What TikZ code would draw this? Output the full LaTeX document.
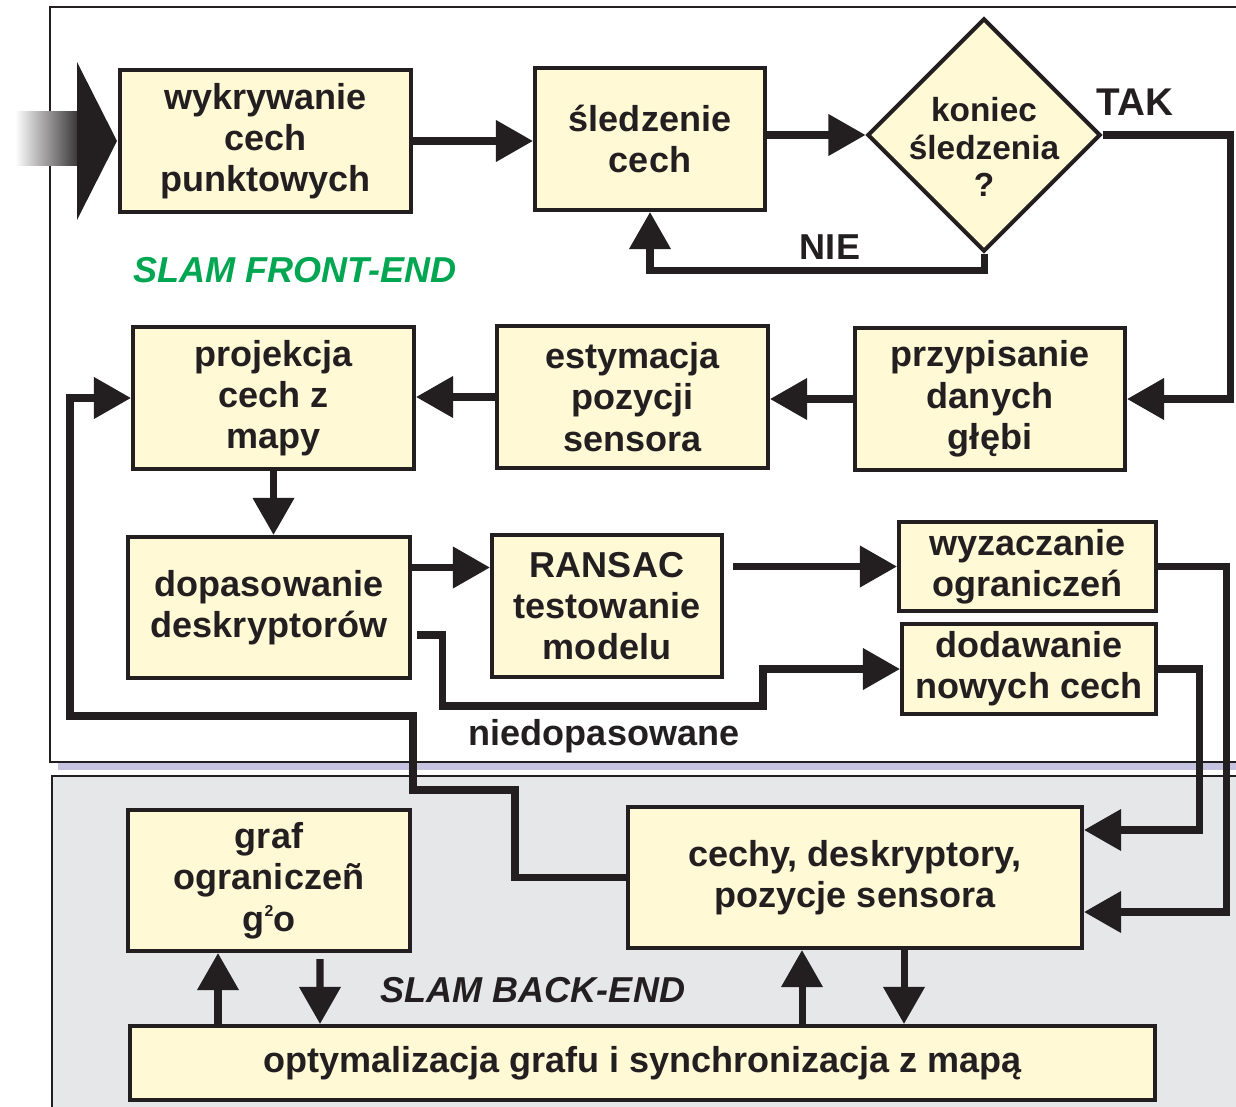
\documentclass[tikz,border=0pt]{standalone}
\usepackage{fontspec}
\setmainfont{Liberation Sans}
\usetikzlibrary{arrows.meta,shapes.geometric,calc}

\definecolor{boxfill}{RGB}{255,249,214}
\definecolor{ink}{RGB}{35,31,32}
\definecolor{backfill}{RGB}{230,231,233}
\definecolor{frontgreen}{RGB}{0,166,81}
\definecolor{shadowlav}{RGB}{197,195,224}

\tikzset{
  blok/.style={draw=ink, line width=2.3pt, fill=boxfill, text=ink, align=center,
    inner sep=0pt, font=\bfseries\fontsize{20.5}{23.5}\selectfont},
  decyzja/.style={blok, shape=diamond, aspect=1},
  conn/.style={draw=ink, line width=4pt, -{Triangle[length=0.74cm,width=0.8cm]}},
  lab/.style={text=ink, font=\bfseries\fontsize{20.5}{23.5}\selectfont},
}

\begin{document}
\begin{tikzpicture}[scale=1.0]
  \useasboundingbox (0,0) rectangle (24.72,-22.12);
  \clip (0,0) rectangle (24.72,-22.12);

  % Back-end and front-end frames
  \filldraw[fill=backfill, draw=ink, line width=1pt] (1.04,-15.52) rectangle (25.5,-23);
  \fill[shadowlav] (1.16,-0.3) rectangle (25.5,-15.4);
  \filldraw[fill=white, draw=ink, line width=1pt] (1.0,-0.14) rectangle (25.5,-15.24);

  % Input arrow
  \shade[left color=white, right color=ink] (0.3,-2.24) rectangle (1.7,-3.32);
  \fill[ink] (1.54,-1.24) -- (2.34,-2.82) -- (1.54,-4.4) -- cycle;

  % Front-end blocks
  \node[blok, minimum width=5.82cm, minimum height=2.84cm] (wyk) at (5.31,-2.82) {wykrywanie\\cech\\punktowych};
  \node[blok, minimum width=4.6cm, minimum height=2.84cm] (sled) at (13.0,-2.78) {śledzenie\\cech};
  \node[decyzja, minimum width=4.66cm, minimum height=4.66cm,
    label={[lab, align=center, yshift=-0.24cm, font=\bfseries\fontsize{19}{21.5}\selectfont]center:koniec\\śledzenia\\?}] (dec) at (19.68,-2.70) {};
  \node[blok, minimum width=5.62cm, minimum height=2.84cm] (proj) at (5.47,-7.96) {projekcja\\cech z\\mapy};
  \node[blok, minimum width=5.42cm, minimum height=2.84cm] (est) at (12.65,-7.94) {estymacja\\pozycji\\sensora};
  \node[blok, minimum width=5.4cm, minimum height=2.84cm] (przyp) at (19.8,-7.98) {przypisanie\\danych\\głębi};
  \node[blok, minimum width=5.64cm, minimum height=2.82cm] (dopas) at (5.38,-12.15) {dopasowanie\\deskryptorów};
  \node[blok, minimum width=4.6cm, minimum height=2.84cm] (ransac) at (12.14,-12.12) {RANSAC\\testowanie\\modelu};
  \node[blok, minimum width=5.14cm, minimum height=1.78cm] (wyz) at (20.55,-11.33) {wyzaczanie\\ograniczeń};
  \node[blok, minimum width=5.08cm, minimum height=1.8cm] (dod) at (20.58,-13.38) {dodawanie\\nowych cech};

  % Back-end blocks
  \node[blok, minimum width=5.64cm, minimum height=2.82cm] (graf) at (5.38,-17.61)
    {graf\\ograniczeñ\\g\raisebox{0.75ex}{\fontsize{9}{9}\selectfont 2}o};
  \node[blok, minimum width=9.08cm, minimum height=2.82cm] (cechy) at (17.1,-17.55) {cechy, deskryptory,\\pozycje sensora};
  \node[blok, minimum width=20.5cm, minimum height=1.48cm] (opt) at (12.85,-21.26) {optymalizacja grafu i synchronizacja z mapą};

  % Labels
  \node[font=\bfseries\itshape\fontsize{20.5}{23.5}\selectfont, text=frontgreen] (fe) at (5.9,-5.4) {SLAM FRONT-END};
  \node[font=\bfseries\itshape\fontsize{20.5}{23.5}\selectfont, text=ink] (be) at (10.66,-19.8) {SLAM BACK-END};
  \node[lab, font=\bfseries\fontsize{22}{25}\selectfont] (tak) at (22.7,-2.04) {TAK};
  \node[lab] (nie) at (16.6,-4.94) {NIE};
  \node[lab] (nied) at (12.08,-14.72) {niedopasowane};

  % Front-end connectors
  \draw[conn] (wyk.east) -- (wyk.east -| sled.west);
  \draw[conn] (dec.west -| sled.east) -- (dec.west);
  \draw[conn] (dec.south) -- ++(0,-0.34) -| (sled.south);
  \draw[conn] (dec.east) -- ++(2.56,0) |- (przyp.east);
  \draw[conn] (przyp.west) -- (przyp.west -| est.east);
  \draw[conn] (est.west) -- (est.west -| proj.east);
  \draw[conn] (proj.south) -- (proj.south |- dopas.north);
  \draw[conn] ([yshift=0.8cm]dopas.east) -- ([yshift=0.8cm]dopas.east -| ransac.west);
  \draw[conn] ([xshift=0.18cm]ransac.east |- wyz.west) -- (wyz.west);
  \draw[conn] ([shift={(0.1,-0.55)}]dopas.east) -- ++(0.5,0) |- (15.26,-14.12) |- (dod.west);

  % Into the map
  \draw[conn] (wyz.east) -- ++(1.36,0) |- ([yshift=-0.69cm]cechy.east);
  \draw[conn] (dod.east) -- ++(0.82,0) |- ([yshift=0.95cm]cechy.east);
  \draw[conn] (cechy.west) -| (10.3,-15.8) -| (8.26,-14.32) -| (1.4,-7.96) -- (proj.west);

  % Back-end connectors
  \draw[conn] ([xshift=-1.02cm]graf.south |- opt.north) -- ([xshift=-1.02cm]graf.south);
  \draw[conn] ([shift={(1.02,-0.12)}]graf.south) -- ([xshift=1.02cm]graf.south |- opt.north);
  \draw[conn] ([xshift=-1.06cm]cechy.south |- opt.north) -- ([xshift=-1.06cm]cechy.south);
  \draw[conn] ([xshift=0.98cm]cechy.south) -- ([xshift=0.98cm]cechy.south |- opt.north);
\end{tikzpicture}
\end{document}
